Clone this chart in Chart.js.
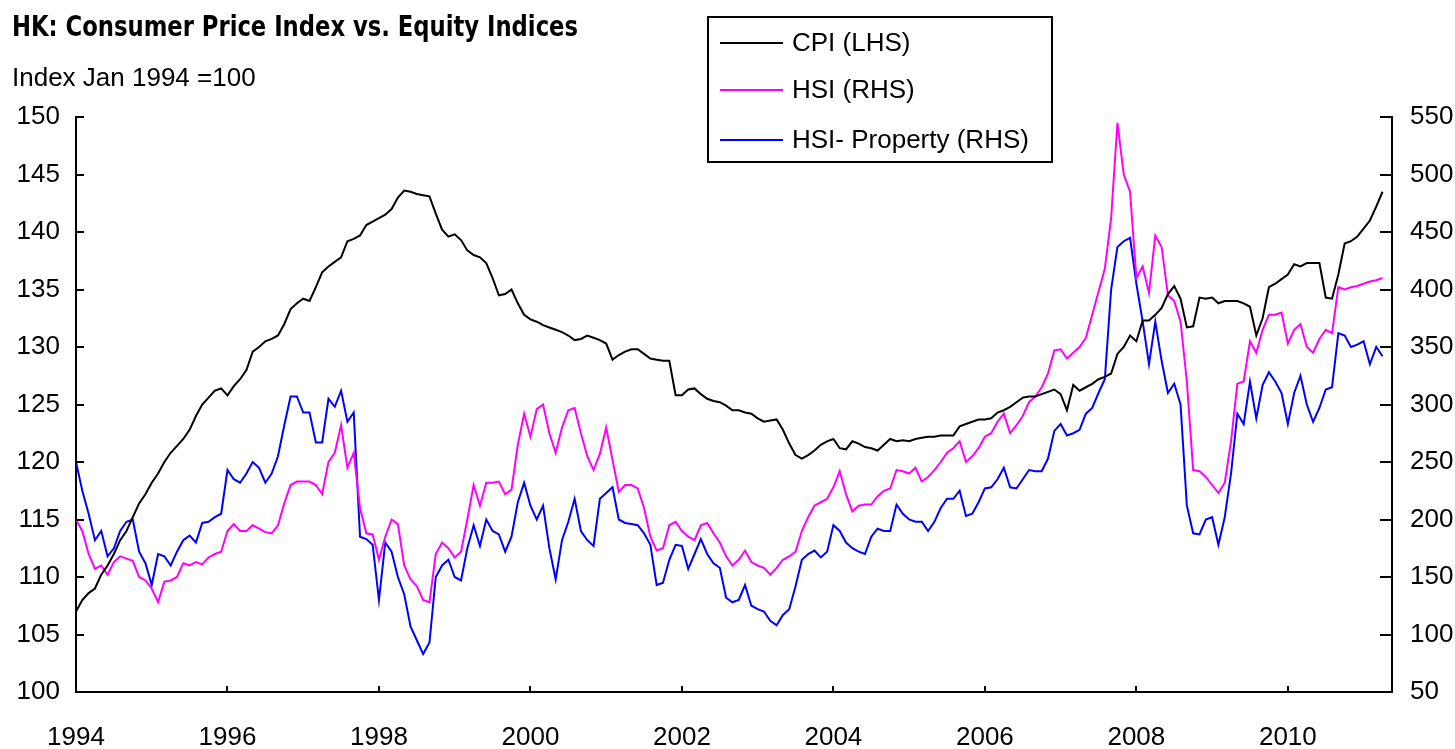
<!DOCTYPE html>
<html>
<head>
<meta charset="utf-8">
<title>HK: Consumer Price Index vs. Equity Indices</title>
<script src="https://cdn.jsdelivr.net/npm/chart.js@4.4.0/dist/chart.umd.min.js"></script>
<style>
  html, body { margin: 0; padding: 0; background: #fff; }
  #wrap { position: relative; width: 1455px; height: 749px; }
</style>
</head>
<body>
<div id="wrap"><canvas id="chart" width="1455" height="749"></canvas></div>
<script>
// Monthly data, Jan 1994 .. Apr 2011 (index Jan 1994 = 100)
const titleText = 'HK: Consumer Price Index vs. Equity Indices';
const subtitleText = 'Index Jan 1994 =100';
const yearLabels = ['1994', '1996', '1998', '2000', '2002', '2004', '2006', '2008', '2010'];
const seriesNames = ['CPI (LHS)', 'HSI (RHS)', 'HSI- Property (RHS)'];

const cpi = [
  107.0, 108.0, 108.6, 109.0, 110.2, 111.0, 112.0, 113.2, 114.0, 115.2,
  116.4, 117.2, 118.2, 119.0, 120.0, 120.8, 121.4, 122.0, 122.8, 124.0,
  125.0, 125.6, 126.2, 126.4, 125.8, 126.6, 127.2, 128.0, 129.6, 130.0,
  130.5, 130.7, 131.0, 132.0, 133.3, 133.8, 134.2, 134.0, 135.2, 136.5,
  137.0, 137.4, 137.8, 139.2, 139.4, 139.7, 140.6, 140.9, 141.2, 141.5,
  142.0, 143.0, 143.6, 143.5, 143.3, 143.2, 143.1, 141.6, 140.2, 139.6,
  139.8, 139.3, 138.4, 138.0, 137.8, 137.3, 136.0, 134.5, 134.6, 135.0,
  133.8, 132.8, 132.4, 132.2, 131.9, 131.7, 131.5, 131.3, 131.0, 130.6,
  130.7, 131.0, 130.8, 130.6, 130.3, 128.9, 129.3, 129.6, 129.8, 129.8,
  129.4, 129.0, 128.9, 128.8, 128.8, 125.8, 125.8, 126.3, 126.4, 125.9,
  125.5, 125.3, 125.2, 124.9, 124.5, 124.5, 124.3, 124.2, 123.8, 123.5,
  123.6, 123.7, 122.8, 121.6, 120.6, 120.3, 120.6, 121.0, 121.5, 121.8,
  122.0, 121.2, 121.1, 121.8, 121.6, 121.3, 121.2, 121.0, 121.5, 122.0,
  121.8, 121.9, 121.8, 122.0, 122.1, 122.2, 122.2, 122.3, 122.3, 122.3,
  123.1, 123.3, 123.5, 123.7, 123.7, 123.8, 124.3, 124.5, 124.8, 125.2,
  125.6, 125.7, 125.7, 125.9, 126.1, 126.3, 125.9, 124.5, 126.7, 126.2,
  126.5, 126.8, 127.2, 127.4, 127.7, 129.4, 130.0, 131.0, 130.5, 132.3,
  132.3, 132.8, 133.4, 134.6, 135.3, 134.2, 131.7, 131.8, 134.3, 134.2,
  134.3, 133.8, 134.0, 134.0, 134.0, 133.8, 133.5, 131.0, 132.5, 135.2,
  135.5, 135.9, 136.3, 137.2, 137.0, 137.3, 137.3, 137.3, 134.3, 134.2,
  136.3, 139.0, 139.2, 139.6, 140.3, 141.0, 142.2, 143.5
];

const hsi = [
  200, 190, 170, 157, 160, 152, 163, 168, 166, 164,
  150, 147, 140, 128, 146, 147, 150, 162, 160, 163,
  161, 167, 170, 172, 190, 196, 190, 190, 195, 192,
  189, 188, 195, 214, 230, 233, 233, 233, 230, 222,
  250, 258, 282, 245, 258, 210, 188, 187, 165, 185,
  200, 196, 160, 148, 142, 130, 128, 170, 180, 175,
  167, 172, 200, 230, 212, 232, 232, 233, 222, 226,
  265, 292, 272, 296, 300, 275, 258, 280, 295, 297,
  275, 255, 243, 257, 280, 252, 224, 230, 230, 227,
  210, 185, 173, 175, 195, 198, 190, 185, 182, 195,
  197, 188, 180, 168, 160, 165, 173, 163, 160, 158,
  152, 158, 165, 168, 172, 190, 202, 212, 215, 218,
  228, 242, 222, 207, 212, 213, 213, 220, 225, 227,
  243, 242, 240, 245, 233, 237, 243, 250, 258, 262,
  268, 250, 255, 262, 272, 275, 285, 292, 275, 282,
  290, 302, 307, 315, 327, 347, 348, 340, 345, 350,
  358, 378, 398, 418, 462, 545, 500, 485, 410, 420,
  397, 447, 437, 395, 390, 372, 320, 243, 242, 237,
  230, 223, 232, 268, 318, 320, 355, 345, 365, 378,
  378, 380, 353, 365, 370, 350, 345, 357, 365, 362,
  402, 400, 402, 403, 405, 407, 408, 410
];

const hsiProperty = [
  250, 225, 205, 182, 190, 168, 175, 190, 198, 200,
  172, 162, 143, 170, 168, 160, 172, 182, 186, 180,
  197, 198, 202, 205, 243, 235, 232, 240, 250, 245,
  232, 240, 255, 282, 307, 307, 293, 293, 267, 267,
  305, 298, 312, 285, 293, 185, 183, 178, 130, 180,
  172, 150, 135, 107, 95, 83, 93, 150, 160, 165,
  150, 147, 175, 195, 177, 200, 190, 187, 172, 185,
  215, 232, 212, 200, 212, 175, 148, 182, 198, 218,
  190, 182, 177, 218, 223, 228, 200, 197, 196, 195,
  188, 178, 143, 145, 165, 178, 177, 157, 170, 183,
  170, 162, 158, 132, 128, 130, 143, 125, 122, 120,
  112, 108, 117, 122, 142, 165, 170, 173, 167, 172,
  195, 190, 180, 175, 172, 170, 185, 192, 190, 190,
  213, 205, 200, 198, 198, 190, 198, 210, 218, 218,
  225, 203, 205, 215, 227, 228, 235, 245, 228, 227,
  235, 243, 242, 242, 253, 277, 283, 273, 275, 278,
  292, 297, 310, 322, 400, 437, 442, 445, 405, 372,
  335, 372, 338, 310, 318, 300, 212, 188, 187, 200,
  202, 178, 202, 240, 292, 283, 320, 288, 317, 328,
  320, 310, 283, 310, 325, 300, 285, 297, 313, 315,
  362, 360, 350, 352, 355, 335, 350, 342
];

const colors = ['#000000', '#ff00ff', '#0000ff'];
const labelFont = '26px "Liberation Sans", Arial, sans-serif';

// x = months since Jan 1994
function toPoints(arr) {
    return arr.map((v, i) => ({ x: i, y: v }));
}

// title, legend box and inward tick marks
const decorations = {
    id: 'decorations',
    afterDraw(chart) {
        const ctx = chart.ctx;
        const sx = chart.scales.x, yl = chart.scales.yLeft, yr = chart.scales.yRight;
        const { left, right, bottom } = chart.chartArea;
        ctx.save();
        ctx.fillStyle = '#000';
        ctx.strokeStyle = '#000';
        ctx.textBaseline = 'alphabetic';

        // title, squeezed to the reference width
        ctx.font = 'bold 28px "Liberation Sans Narrow", "DejaVu Sans Condensed", Arial, sans-serif';
        const tw = ctx.measureText(titleText).width;
        ctx.save();
        ctx.translate(12, 36);
        ctx.scale(566 / tw, 1);
        ctx.fillText(titleText, 0, 0);
        ctx.restore();

        ctx.font = labelFont;
        ctx.fillText(subtitleText, 12, 86);

        // tick marks pointing into the plot
        ctx.lineWidth = 2;
        ctx.beginPath();
        yl.ticks.forEach(t => {
            const y = Math.round(yl.getPixelForValue(t.value));
            ctx.moveTo(left, y); ctx.lineTo(left + 8, y);
        });
        yr.ticks.forEach(t => {
            const y = Math.round(yr.getPixelForValue(t.value));
            ctx.moveTo(right, y); ctx.lineTo(right - 12, y);
        });
        sx.ticks.forEach(t => {
            const x = Math.round(sx.getPixelForValue(t.value));
            ctx.moveTo(x, bottom); ctx.lineTo(x, bottom - 6);
        });
        ctx.stroke();

        // legend
        ctx.lineWidth = 2;
        ctx.strokeRect(708, 17, 344, 145);
        const rows = [43, 90, 140];
        ctx.font = labelFont;
        ctx.textBaseline = 'middle';
        seriesNames.forEach((name, i) => {
            ctx.strokeStyle = colors[i];
            ctx.beginPath();
            ctx.moveTo(720, rows[i]);
            ctx.lineTo(783, rows[i]);
            ctx.stroke();
            ctx.fillStyle = '#000';
            ctx.fillText(name, 792, rows[i] + 1);
        });
        ctx.restore();
    }
};

function initChart() {
    const ctx = document.getElementById('chart');

    new Chart(ctx, {
        type: 'line',
        data: {
            datasets: [
                { label: seriesNames[0], data: toPoints(cpi), yAxisID: 'yLeft', borderColor: colors[0] },
                { label: seriesNames[1], data: toPoints(hsi), yAxisID: 'yRight', borderColor: colors[1] },
                { label: seriesNames[2], data: toPoints(hsiProperty), yAxisID: 'yRight', borderColor: colors[2] }
            ]
        },
        options: {
            responsive: false,
            animation: false,
            parsing: false,
            layout: { padding: { top: 117, left: 0, right: 0, bottom: 0 } },
            elements: {
                line: { borderWidth: 2, tension: 0 },
                point: { radius: 0 }
            },
            plugins: {
                legend: { display: false },
                title: { display: false },
                tooltip: { enabled: false }
            },
            scales: {
                x: {
                    type: 'linear',
                    min: 0,
                    max: 208.5,
                    grid: { display: false, drawTicks: false },
                    border: { display: true, color: '#000', width: 2 },
                    afterBuildTicks: s => { s.ticks = s.ticks.filter(t => t.value % 24 === 0); },
                    afterFit: s => { s.height = 57; },
                    ticks: {
                        stepSize: 24,
                        includeBounds: false,
                        autoSkip: false,
                        padding: 30,
                        maxRotation: 0,
                        color: '#000',
                        font: { family: '"Liberation Sans", Arial, sans-serif', size: 26 },
                        callback: v => yearLabels[v / 24]
                    }
                },
                yLeft: {
                    position: 'left',
                    min: 100,
                    max: 150,
                    grid: { display: false, drawTicks: false },
                    border: { display: true, color: '#000', width: 2 },
                    afterFit: s => { s.width = 76; },
                    ticks: {
                        stepSize: 5,
                        padding: 16,
                        color: '#000',
                        font: { family: '"Liberation Sans", Arial, sans-serif', size: 26 }
                    }
                },
                yRight: {
                    position: 'right',
                    min: 50,
                    max: 550,
                    grid: { display: false, drawTicks: false },
                    border: { display: true, color: '#000', width: 2 },
                    afterFit: s => { s.width = 63; },
                    ticks: {
                        stepSize: 50,
                        padding: 18,
                        color: '#000',
                        font: { family: '"Liberation Sans", Arial, sans-serif', size: 26 }
                    }
                }
            }
        },
        plugins: [decorations]
    });
}

if (document.readyState === 'loading') {
    document.addEventListener('DOMContentLoaded', initChart);
} else {
    initChart();
}
</script>
</body>
</html>
